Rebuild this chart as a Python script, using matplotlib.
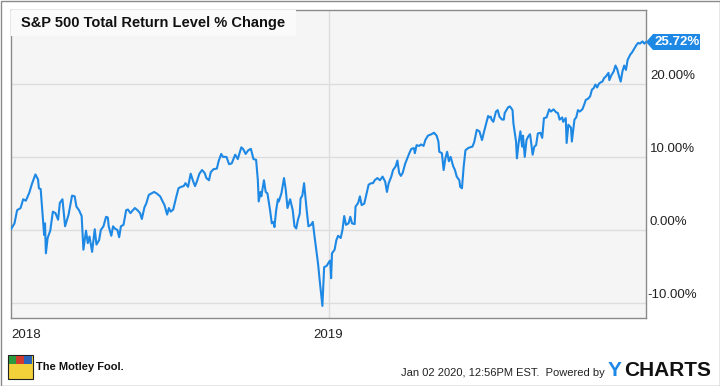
import numpy as np
import pandas as pd
import matplotlib
matplotlib.use("Agg")
import matplotlib.pyplot as plt
import matplotlib.dates as mdates
from matplotlib.patches import Rectangle, Polygon
import matplotlib.transforms as mtransforms

plt.rcParams['font.family'] = ['Liberation Sans', 'DejaVu Sans']

# ---------------- data ----------------
start_date = "2018-01-02"
day_offsets = [
    0, 4, 7, 11, 14, 17, 21, 24, 28, 31, 32, 34, 37, 38, 39, 40, 42, 45, 48, 51,
    54, 56, 59, 62, 66, 70, 73, 75, 78, 81, 83, 86, 88, 90, 93, 96, 98, 101, 103, 106,
    109, 111, 112, 115, 117, 119, 122, 124, 126, 129, 132, 134, 137, 139, 142, 145, 148, 150, 153, 155,
    158, 161, 164, 167, 171, 173, 176, 179, 181, 183, 186, 189, 192, 195, 198, 200, 203, 206, 209, 211,
    213, 216, 219, 222, 224, 227, 229, 232, 236, 238, 241, 243, 247, 250, 253, 257, 260, 264, 266, 269,
    272, 275, 278, 281, 283, 284, 286, 287, 290, 292, 294, 297, 299, 301, 302, 304, 306, 307, 310, 313,
    315, 317, 320, 323, 325, 327, 329, 331, 332, 334, 336, 339, 341, 344, 346, 348, 350, 352, 354, 357,
    359, 362, 365, 366, 367, 368, 371, 373, 375, 378, 380, 382, 384, 387, 389, 391, 394, 395, 398, 400,
    402, 405, 408, 410, 413, 415, 417, 420, 423, 426, 429, 431, 433, 436, 438, 441, 443, 445, 447, 449,
    452, 455, 457, 459, 462, 463, 465, 468, 470, 473, 475, 478, 482, 485, 488, 490, 491, 494, 496, 498,
    500, 502, 504, 507, 509, 511, 514, 515, 517, 519, 521, 524, 526, 529, 531, 534, 537, 540, 542, 544,
    547, 548, 550, 551, 553, 556, 558, 560, 563, 565, 566, 570, 572, 575, 576, 579, 580, 582, 584, 586,
    587, 589, 591, 593, 595, 596, 598, 600, 602, 604, 607, 609, 611, 614, 617, 619, 622, 625, 627, 629,
    632, 633, 636, 637, 639, 642, 643, 646, 648, 650, 652, 655, 657, 659, 662, 664, 666, 668, 670, 672,
    674, 676, 678, 680, 682, 685, 686, 688, 691, 693, 695, 697, 699, 701, 703, 705, 707, 710, 712, 714,
    717, 719, 721, 724, 726, 728,
]
pct_change = [
    0.1, 0.9, 2.7, 3.0, 4.2, 4.0, 5.1, 6.3, 7.6, 6.9, 5.7, 5.6, 0.9, -0.7, 0.9, -3.2, -1.1, -0.1, 2.5, 2.3,
    1.4, 3.7, 4.2, 0.5, 2.1, 4.7, 4.6, 3.2, 2.7, 1.9, -2.7, -0.1, -1.8, -0.9, -3.0, 0.1, -2.0, -1.4, 0.0, 0.5,
    1.8, 1.7, 0.5, -0.8, 0.5, 0.2, 0.0, -1.0, 0.5, 0.7, 2.7, 2.8, 2.3, 2.6, 3.0, 2.7, 2.3, 1.5, 3.1, 3.6,
    4.8, 5.0, 5.2, 5.0, 4.6, 4.1, 3.4, 2.1, 3.0, 2.5, 2.8, 4.3, 5.7, 5.9, 6.0, 6.4, 5.9, 7.7, 6.6, 6.0,
    6.6, 7.7, 8.2, 7.8, 7.1, 6.8, 7.9, 8.3, 8.4, 9.4, 10.4, 10.0, 10.0, 9.0, 9.1, 10.3, 9.7, 11.3, 11.1, 10.4,
    10.9, 11.1, 9.7, 9.6, 6.8, 3.9, 5.2, 4.6, 6.8, 5.2, 5.0, 2.7, 0.9, 1.1, 0.4, 2.7, 4.2, 3.9, 5.0, 7.1,
    5.5, 3.0, 4.2, 2.7, 0.5, 0.2, 1.4, 2.2, 4.3, 4.7, 6.4, 2.7, 0.5, 0.7, 1.1, -0.9, -2.7, -4.6, -7.0, -10.4,
    -5.1, -4.9, -4.3, -4.2, -6.6, -3.2, -2.7, -1.4, -0.8, -1.1, 0.0, 1.9, 0.7, 0.9, 1.8, 0.9, 0.8, 3.2, 3.7, 4.6,
    3.4, 3.6, 5.2, 6.2, 6.4, 6.4, 6.8, 7.1, 6.8, 7.3, 6.6, 5.2, 6.4, 7.3, 8.2, 8.7, 9.5, 7.8, 7.4, 7.8,
    9.1, 10.0, 10.6, 11.1, 11.2, 10.5, 11.6, 11.5, 11.7, 11.5, 12.3, 12.9, 13.1, 13.3, 12.9, 12.1, 10.7, 10.5, 8.2, 9.8,
    10.7, 9.4, 10.0, 8.7, 8.2, 7.3, 6.8, 5.9, 5.7, 8.7, 10.9, 11.2, 11.3, 11.4, 12.0, 13.7, 13.5, 12.3, 13.3, 14.2,
    15.6, 15.4, 15.5, 15.1, 14.8, 16.2, 16.4, 15.5, 15.1, 15.1, 16.0, 16.8, 16.9, 16.4, 14.6, 12.1, 9.8, 11.9, 13.5, 11.4,
    12.9, 10.0, 12.3, 12.8, 13.1, 12.3, 10.3, 11.4, 11.6, 13.2, 13.3, 12.6, 15.3, 15.4, 16.5, 16.2, 16.5, 16.1, 16.0, 15.1,
    15.4, 14.8, 15.3, 11.9, 14.4, 14.0, 12.1, 15.1, 15.4, 16.4, 16.2, 16.5, 17.1, 17.8, 18.0, 18.3, 19.2, 19.4, 19.9, 19.5,
    20.0, 20.2, 20.3, 20.8, 21.0, 21.5, 20.5, 21.1, 21.7, 22.5, 22.0, 21.1, 20.3, 21.7, 22.5, 21.9, 23.3, 24.0, 24.3, 24.7,
    25.3, 25.6, 25.5, 25.8, 25.5, 25.72,
]
y_ticks = [-10, 0, 10, 20]
y_tick_labels = ["-10.00%", "0.00%", "10.00%", "20.00%"]
x_tick_dates = ["2018-01-02", "2019-01-01"]
x_tick_labels = ["2018", "2019"]
title = "S&P 500 Total Return Level % Change"
last_label = "25.72%"

# ---------------- figure ----------------
W, H = 720, 386
fig = plt.figure(figsize=(W / 100, H / 100), dpi=100)
fig.patch.set_facecolor("white")

L, R, T, B = 11, 646, 10, 318
ax = fig.add_axes([L / W, 1 - B / H, (R - L) / W, (B - T) / H])
ax.set_facecolor("#f5f5f5")

dates = pd.Timestamp(start_date) + pd.to_timedelta(day_offsets, unit="D")
line_color = "#1e88e5"
ax.plot(dates, pct_change, color=line_color, lw=1.5, solid_joinstyle="round", zorder=3)

ax.set_xlim(dates[0], dates[-1])
ax.set_ylim(-12.05, 30.1)

# grid
for v in y_ticks:
    ax.axhline(v, color="#dddddd", lw=1, zorder=1)
ax.axvline(pd.Timestamp(x_tick_dates[1]), color="#dddddd", lw=1, zorder=1)

ax.set_yticks([])
ax.set_xticks([pd.Timestamp(d) for d in x_tick_dates])
ax.set_xticklabels(x_tick_labels, fontsize=9.5, color="#222222")
ax.tick_params(axis="x", length=0, pad=8)
ax.get_xticklabels()[0].set_horizontalalignment("left")
for sp in ax.spines.values():
    sp.set_color("#8a8a8a")
    sp.set_linewidth(1)

# y labels on right, just above gridlines
trans = mtransforms.blended_transform_factory(ax.transAxes, ax.transData)
for v, lab in zip(y_ticks, y_tick_labels):
    ax.annotate(lab, xy=(1, v), xycoords=trans, xytext=(4 if v >= 0 else 1, 8),
                textcoords="offset pixels", ha="left", va="center",
                fontsize=9.5, color="#222222", annotation_clip=False)

# title box
ax.add_patch(Rectangle((0, 1 - 26 / (B - T)), (296 - L) / (R - L), 26 / (B - T),
                       transform=ax.transAxes, facecolor="#fafafa", edgecolor="none", zorder=4))
ax.text(10 / (R - L), 1 - 13 / (B - T), title, transform=ax.transAxes,
        fontsize=10.5, fontweight="bold", color="#111111", va="center", ha="left", zorder=5)

# last-value label
fig.canvas.draw()
x0, y0 = ax.transData.transform((mdates.date2num(dates[-1]), pct_change[-1]))
hh = 8
poly = Polygon([(x0, y0), (x0 + 7, y0 + hh), (x0 + 54, y0 + hh), (x0 + 54, y0 - hh), (x0 + 7, y0 - hh)],
               closed=True, transform=None, facecolor=line_color, edgecolor="none", zorder=6)
fig.patches.append(poly)
poly.set_figure(fig)
fig.text((x0 + 31) / W, y0 / H, last_label, ha="center", va="center", fontsize=9.5,
         fontweight="bold", color="white", zorder=7)

# footer
fig.add_artist(Rectangle((8 / W, 1 - 379 / H), 25 / W, 24 / H, transform=fig.transFigure,
                         facecolor="#f2d13a", edgecolor="#222222", lw=0.8))
fig.add_artist(Rectangle((9 / W, 1 - 364 / H), 7 / W, 8 / H, transform=fig.transFigure,
                         facecolor="#2e9a3e", edgecolor="none"))
fig.add_artist(Rectangle((16 / W, 1 - 364 / H), 8 / W, 8 / H, transform=fig.transFigure,
                         facecolor="#d23a2e", edgecolor="none"))
fig.add_artist(Rectangle((24 / W, 1 - 364 / H), 8 / W, 8 / H, transform=fig.transFigure,
                         facecolor="#2a63b8", edgecolor="none"))
fig.text(36 / W, 1 - 367 / H, "The Motley Fool.", fontsize=8, fontweight="bold",
         color="#111111", ha="left", va="center")
fig.text(605 / W, 1 - 373 / H, "Jan 02 2020, 12:56PM EST.  Powered by", fontsize=8,
         color="#222222", ha="right", va="center")
fig.text(608 / W, 1 - 370 / H, "Y", fontsize=15, fontweight="bold", color=line_color,
         ha="left", va="center")
fig.text(624 / W, 1 - 370 / H, "CHARTS", fontsize=15, fontweight="bold", color="#111111",
         ha="left", va="center")

# outer border
fig.add_artist(Rectangle((0.5 / W, 0.5 / H), (W - 1) / W, (H - 1) / H, transform=fig.transFigure,
                         facecolor="none", edgecolor="#8a8a8a", lw=1))

fig.savefig("out.png", dpi=100)
